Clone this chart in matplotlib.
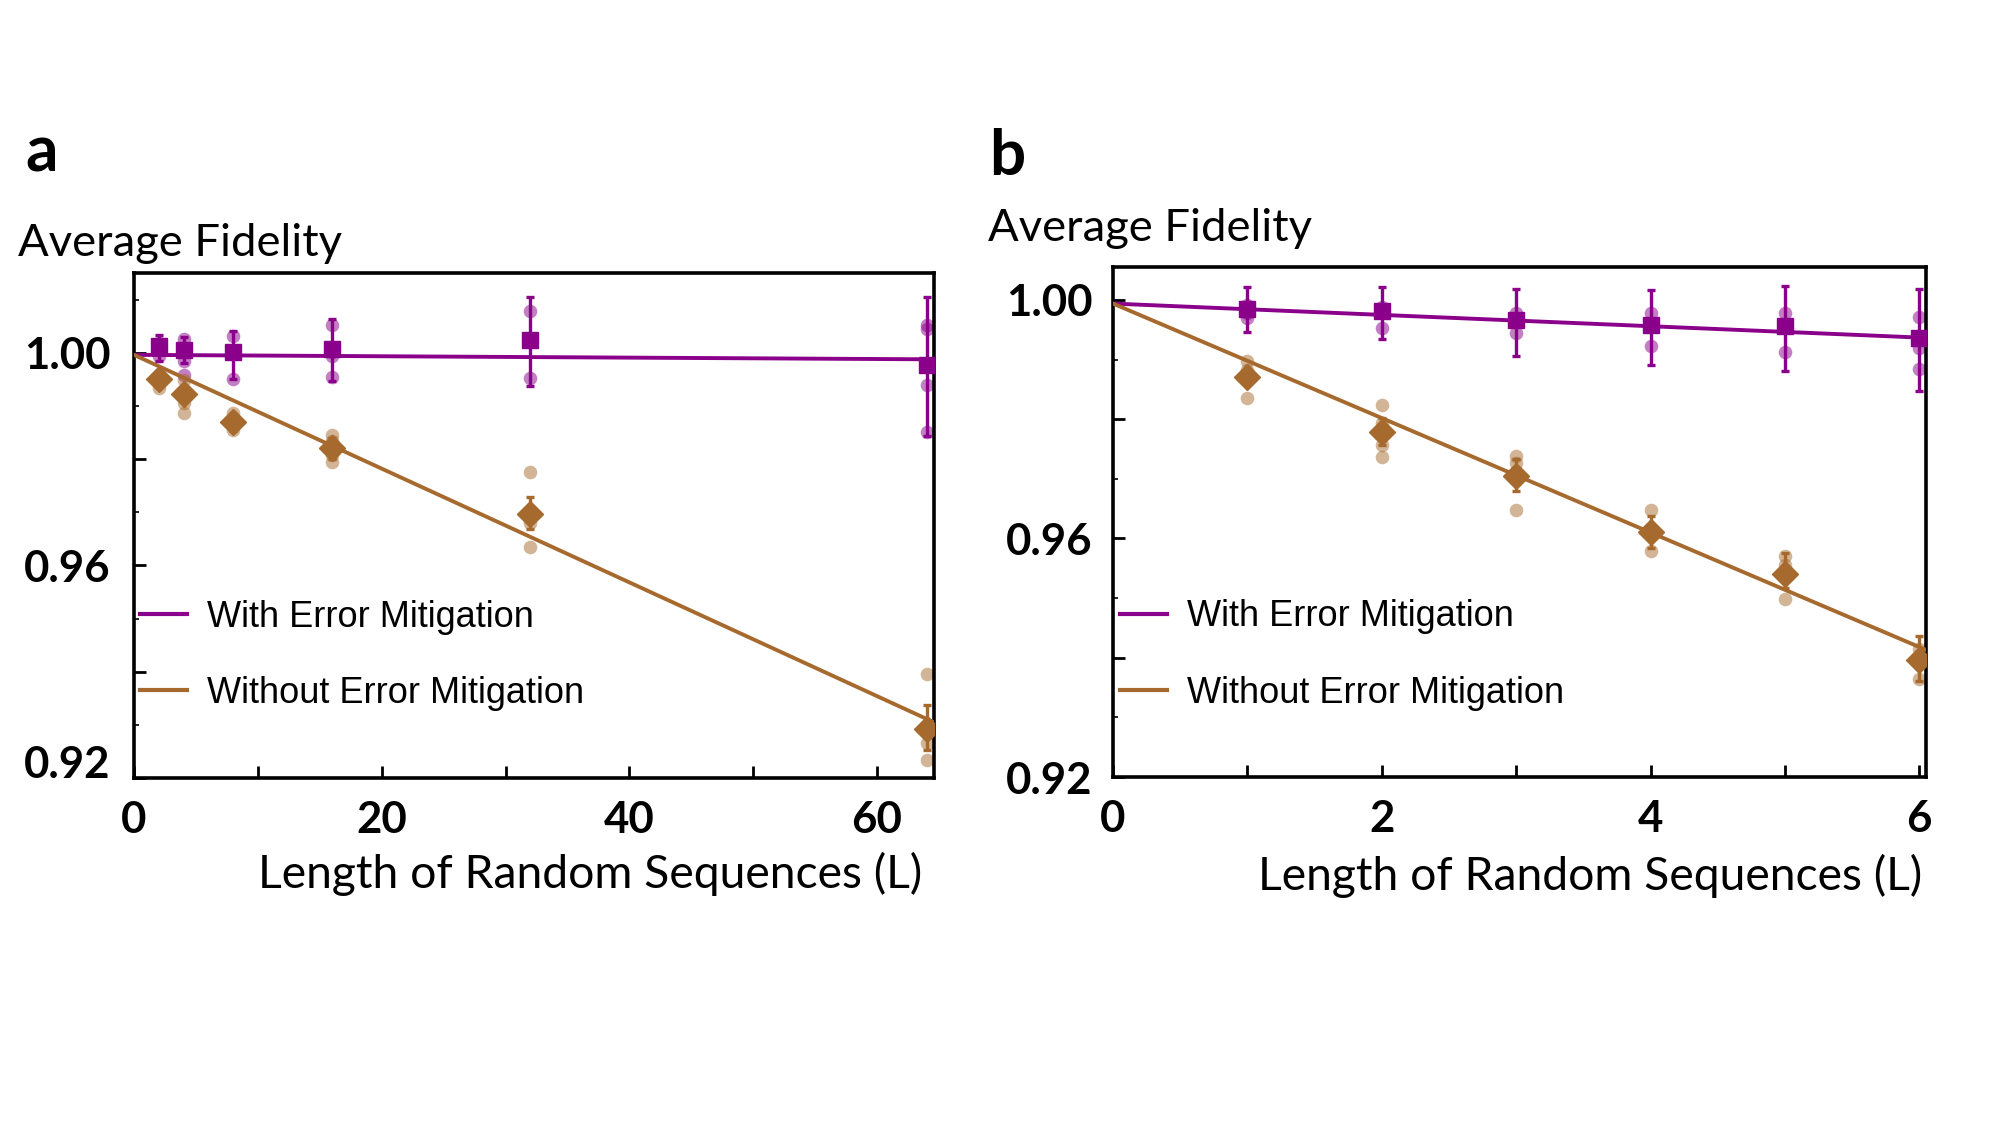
import numpy as np
import matplotlib
matplotlib.use("Agg")
import matplotlib.pyplot as plt
from matplotlib.lines import Line2D
from matplotlib.ticker import MultipleLocator

# ---------------- data ----------------
# Panel a
L_a = [2, 4, 8, 16, 32, 64]
with_mean_a = [1.0012, 1.0006, 1.0001, 1.0007, 1.0024, 0.9977]
with_hi_a = [1.0034, 1.0030, 1.0040, 1.0064, 1.0105, 1.0105]
with_lo_a = [0.9984, 0.9980, 0.9950, 0.9946, 0.9937, 0.9844]
with_dots_a = [[1.0018, 1.0006, 0.9993],
               [1.0026, 1.0006, 0.9984, 0.9959],
               [1.0032, 1.0001, 0.9950],
               [1.0053, 1.0002, 0.9993, 0.9955],
               [1.0078, 1.0024, 0.9952],
               [1.0053, 1.0045, 0.9940, 0.9851]]
without_mean_a = [0.9951, 0.9923, 0.9869, 0.9820, 0.9697, 0.9293]
without_hi_a = [0.9958, 0.9935, 0.9885, 0.9840, 0.9728, 0.9337]
without_lo_a = [0.9944, 0.9911, 0.9852, 0.9800, 0.9668, 0.9252]
without_dots_a = [[0.9951, 0.9934],
                  [0.9949, 0.9918, 0.9905, 0.9886],
                  [0.9886, 0.9874, 0.9855],
                  [0.9846, 0.9834, 0.9808, 0.9794],
                  [0.9775, 0.9679, 0.9634],
                  [0.9395, 0.9265, 0.9234]]
fit_a_with = (0.9996, -0.000013)
fit_a_without = (0.9996, -0.00107)

# Panel b
L_b = [1, 2, 3, 4, 5, 6]
with_mean_b = [0.9985, 0.9982, 0.9967, 0.9958, 0.9957, 0.9936]
with_hi_b = [1.0021, 1.0021, 1.0018, 1.0017, 1.0024, 1.0018]
with_lo_b = [0.9947, 0.9935, 0.9906, 0.9891, 0.9881, 0.9847]
with_dots_b = [[0.9992, 0.9978, 0.9969],
               [0.9989, 0.9978, 0.9953],
               [0.9978, 0.9964, 0.9944],
               [0.9978, 0.9958, 0.9922],
               [0.9978, 0.9958, 0.9913],
               [0.9972, 0.9919, 0.9884]]
without_mean_b = [0.9871, 0.9778, 0.9704, 0.9611, 0.9540, 0.9396]
without_hi_b = [0.9880, 0.9802, 0.9733, 0.9638, 0.9576, 0.9437]
without_lo_b = [0.9862, 0.9757, 0.9679, 0.9584, 0.9517, 0.9361]
without_dots_b = [[0.9897, 0.9883, 0.9835],
                  [0.9824, 0.9794, 0.9757, 0.9737],
                  [0.9739, 0.9727, 0.9647],
                  [0.9647, 0.9579],
                  [0.9570, 0.9555, 0.9499],
                  [0.9415, 0.9364]]
fit_b_with = (0.9994, -0.00095)
fit_b_without = (0.9994, -0.0096)

# ticks
xticks_a = [0, 10, 20, 30, 40, 50, 60]
xticklabels_a = ['0', '', '20', '', '40', '', '60']
xticks_b = [0, 1, 2, 3, 4, 5, 6]
xticklabels_b = ['0', '', '2', '', '4', '', '6']
yticks = [0.92, 0.94, 0.96, 0.98, 1.00]
yticklabels = ['0.92', '', '0.96', '', '1.00']

legend_labels = ['With Error Mitigation', 'Without Error Mitigation']
ylabel_text = 'Average Fidelity'
xlabel_text = 'Length of Random Sequences (L)'

# ---------------- style ----------------
PURPLE = '#8A008A'
BROWN = '#A66A2E'
TICKFONT = 'Lato'
LEGFONT = 'Liberation Sans'

fig = plt.figure(figsize=(20, 11.25), dpi=100)
W, H = 2000.0, 1125.0


def fx(x):
    return x / W


def fy(y):
    return 1 - y / H


def make_axes(left, right, top, bottom):
    return fig.add_axes([fx(left), fy(bottom), fx(right) - fx(left), (bottom - top) / H])


def draw_panel(ax, L, wm, whi, wlo, wdots, wom, wohi, wolo, wodots,
               fit_w, fit_wo, xmax, xticks, xticklabels, ylim):
    xs = np.array([0, xmax])
    # individual runs
    for x, ds in zip(L, wdots):
        ax.plot([x] * len(ds), ds, 'o', color=PURPLE, alpha=0.5, ms=9.8, mew=0, zorder=2)
    for x, ds in zip(L, wodots):
        ax.plot([x] * len(ds), ds, 'o', color=BROWN, alpha=0.5, ms=9.8, mew=0, zorder=2)
    # fit lines
    ax.plot(xs, fit_w[0] + fit_w[1] * xs, color=PURPLE, lw=2.8, zorder=3)
    ax.plot(xs, fit_wo[0] + fit_wo[1] * xs, color=BROWN, lw=2.8, zorder=3)
    # means with error bars
    wm = np.array(wm); wom = np.array(wom)
    ax.errorbar(L, wm, yerr=[wm - np.array(wlo), np.array(whi) - wm], fmt='s', color=PURPLE,
                ms=11.5, elinewidth=2.4, capsize=2.7, capthick=2.4, zorder=4)
    ax.errorbar(L, wom, yerr=[wom - np.array(wolo), np.array(wohi) - wom], fmt='D', color=BROWN,
                ms=13.5, elinewidth=2.4, capsize=2.7, capthick=2.4, zorder=4)
    ax.set_xlim(0, xmax)
    ax.set_ylim(*ylim)
    ax.set_xticks(xticks, xticklabels)
    ax.set_yticks(yticks, yticklabels)
    ax.yaxis.set_minor_locator(MultipleLocator(0.01))
    ax.tick_params(axis='both', which='major', direction='in', length=8.5, width=2,
                   labelsize=31.5, top=False, right=False)
    ax.tick_params(axis='y', which='minor', direction='in', length=3.5, width=1.2, right=False)
    ax.tick_params(axis='x', which='major', pad=16)
    for lab in ax.get_xticklabels() + ax.get_yticklabels():
        lab.set_fontfamily(TICKFONT)
        lab.set_fontweight('bold')
    for s in ax.spines.values():
        s.set_linewidth(2.6)
        s.set_color('black')
    handles = [Line2D([], [], color=PURPLE, lw=3), Line2D([], [], color=BROWN, lw=3)]
    return handles


leg_kw = dict(loc='center left', frameon=False, borderpad=0, borderaxespad=0,
              handlelength=1.3, handletextpad=0.55, labelspacing=1.15,
              prop={'family': LEGFONT, 'size': 26})

# panel a
ax_a = make_axes(134, 934, 273, 778)
h = draw_panel(ax_a, L_a, with_mean_a, with_hi_a, with_lo_a, with_dots_a,
               without_mean_a, without_hi_a, without_lo_a, without_dots_a,
               fit_a_with, fit_a_without, 64.6, xticks_a, xticklabels_a, (0.92, 1.0150))
ax_a.tick_params(axis='y', which='major', pad=17)
ax_a.get_yticklabels()[0].set_va('baseline')
ax_a.legend(h, legend_labels, bbox_to_anchor=(0.0075, 0.243), **leg_kw)

# panel b
ax_b = make_axes(1113, 1926, 266.6, 777)
h = draw_panel(ax_b, L_b, with_mean_b, with_hi_b, with_lo_b, with_dots_b,
               without_mean_b, without_hi_b, without_lo_b, without_dots_b,
               fit_b_with, fit_b_without, 6.05, xticks_b, xticklabels_b, (0.9200, 1.0056))
ax_b.tick_params(axis='y', which='major', pad=15)
ax_b.legend(h, legend_labels, bbox_to_anchor=(0.0086, 0.239), **leg_kw)

# panel letters and labels
fig.text(fx(25), fy(171), 'a', fontsize=46, fontweight='bold', family=TICKFONT, va='baseline', ha='left')
fig.text(fx(989), fy(175), 'b', fontsize=46, fontweight='bold', family=TICKFONT, va='baseline', ha='left')
fig.text(fx(18), fy(256), ylabel_text, fontsize=32.7, family=TICKFONT, va='baseline', ha='left')
fig.text(fx(988), fy(241), ylabel_text, fontsize=32.7, family=TICKFONT, va='baseline', ha='left')
fig.text(fx(922), fy(888), xlabel_text, fontsize=33.3, family=TICKFONT, va='baseline', ha='right')
fig.text(fx(1922), fy(890), xlabel_text, fontsize=33.3, family=TICKFONT, va='baseline', ha='right')

fig.savefig('out.png', dpi=100, facecolor='white')
